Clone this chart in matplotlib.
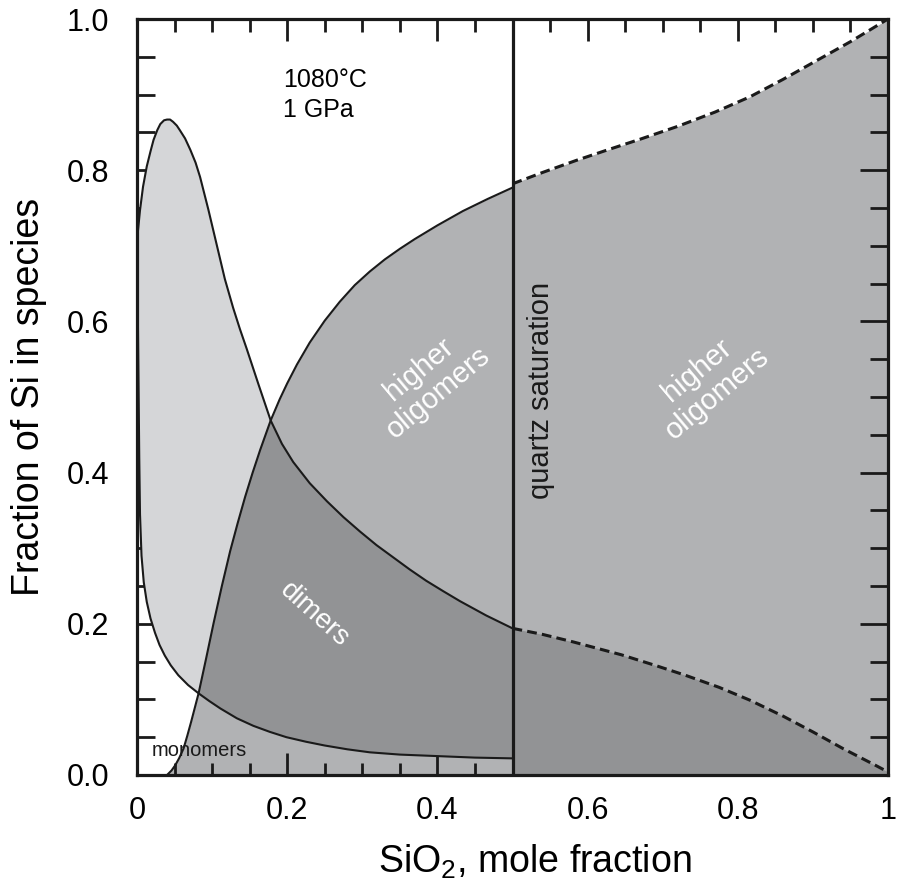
import numpy as np
import matplotlib
matplotlib.use("Agg")
import matplotlib.pyplot as plt
from matplotlib.ticker import MultipleLocator, FixedLocator

plt.rcParams['font.family'] = ['Liberation Sans', 'DejaVu Sans']
plt.rcParams['mathtext.fontset'] = 'custom'
plt.rcParams['mathtext.rm'] = 'Liberation Sans'
plt.rcParams['mathtext.it'] = 'Liberation Sans'

# ---- data ----
# upper curve (solid up to quartz saturation, dashed beyond)
A_x_solid = [0.0, 0.004, 0.008, 0.013, 0.018, 0.022, 0.027, 0.031, 0.036, 0.040, 0.044,
             0.048, 0.053, 0.057, 0.064, 0.071, 0.078, 0.084, 0.095, 0.106, 0.117,
             0.128, 0.137, 0.146, 0.162, 0.178, 0.193, 0.208, 0.230, 0.253, 0.275,
             0.297, 0.319, 0.341, 0.363, 0.385, 0.408, 0.430, 0.465, 0.5]
A_y_solid = [0.707, 0.747, 0.778, 0.805, 0.825, 0.840, 0.853, 0.861, 0.866, 0.867, 0.867,
             0.864, 0.859, 0.853, 0.842, 0.827, 0.810, 0.791, 0.748, 0.702, 0.656,
             0.618, 0.590, 0.564, 0.516, 0.469, 0.438, 0.414, 0.386, 0.362, 0.341,
             0.322, 0.304, 0.288, 0.272, 0.257, 0.243, 0.230, 0.211, 0.194]
A_x_dash = [0.5, 0.54, 0.581, 0.645, 0.69, 0.73, 0.775, 0.816, 0.86, 0.9, 0.94, 0.983, 1.0]
A_y_dash = [0.194, 0.186, 0.176, 0.159, 0.145, 0.132, 0.116, 0.099, 0.078, 0.057, 0.035, 0.013, 0.004]

# rising curve
C_x_solid = [0.040, 0.046, 0.051, 0.056, 0.062, 0.067, 0.072, 0.077, 0.082, 0.092,
             0.102, 0.113, 0.124, 0.134, 0.144, 0.154, 0.164, 0.178, 0.190, 0.200,
             0.213, 0.230, 0.250, 0.270, 0.290, 0.310, 0.330, 0.350, 0.370, 0.400,
             0.434, 0.467, 0.5]
C_y_solid = [0.0, 0.006, 0.013, 0.022, 0.035, 0.052, 0.070, 0.089, 0.108, 0.154,
             0.201, 0.250, 0.296, 0.333, 0.368, 0.400, 0.430, 0.469, 0.497, 0.518,
             0.543, 0.572, 0.601, 0.626, 0.648, 0.666, 0.682, 0.696, 0.709, 0.727,
             0.746, 0.762, 0.777]
C_x_dash = [0.5, 0.54, 0.585, 0.63, 0.67, 0.72, 0.77, 0.816, 0.86, 0.905, 0.95, 1.0]
C_y_dash = [0.782, 0.797, 0.813, 0.828, 0.841, 0.858, 0.877, 0.897, 0.920, 0.945, 0.970, 1.0]

# lower curve
B_x = [0.0, 0.001, 0.002, 0.003, 0.004, 0.006, 0.009, 0.013, 0.018, 0.024, 0.030,
       0.037, 0.045, 0.055, 0.068, 0.082, 0.096, 0.111, 0.133, 0.155, 0.177, 0.199,
       0.225, 0.25, 0.28, 0.31, 0.35, 0.4, 0.45, 0.5]
B_y = [0.707, 0.62, 0.52, 0.42, 0.345, 0.29, 0.255, 0.229, 0.207, 0.188, 0.172,
       0.158, 0.145, 0.132, 0.119, 0.108, 0.098, 0.088, 0.075, 0.065, 0.057, 0.050,
       0.044, 0.039, 0.034, 0.030, 0.027, 0.025, 0.023, 0.022]

x_ticks = [0, 0.2, 0.4, 0.6, 0.8, 1.0]
x_ticklabels = ['0', '0.2', '0.4', '0.6', '0.8', '1']
y_ticks = [0.0, 0.2, 0.4, 0.6, 0.8, 1.0]
y_ticklabels = ['0.0', '0.2', '0.4', '0.6', '0.8', '1.0']

LIGHT = '#d5d6d8'
MED = '#b1b2b4'
DARK = '#929395'
INK = '#1a1a1a'

# ---- figure ----
fig = plt.figure(figsize=(8.98, 8.82), dpi=100)
ax = fig.add_axes([137/898, 1-775/882, (888-137)/898, (775-19)/882])

Ax = np.array(A_x_solid); Ay = np.array(A_y_solid)
Cx = np.array(C_x_solid); Cy = np.array(C_y_solid)
Bx = np.array(B_x); By = np.array(B_y)

iA_ac = int(np.argmin(np.abs(Ax - 0.178)))
iC_ac = int(np.argmin(np.abs(Cx - 0.178)))
iC_bc = int(np.argmin(np.abs(Cx - 0.082)))
iB_bc = int(np.argmin(np.abs(Bx - 0.082)))

# medium gray: everything under the rising curve
ax.fill_between(np.concatenate([Cx, C_x_dash]), 0, np.concatenate([Cy, C_y_dash]),
                color=MED, lw=0, zorder=1)

# dark gray (dimers), left part: between lower curve and min(upper, rising)
dx = np.concatenate([Bx[iB_bc:], Ax[iA_ac:][::-1], Cx[iC_bc:iC_ac + 1][::-1]])
dy = np.concatenate([By[iB_bc:], Ay[iA_ac:][::-1], Cy[iC_bc:iC_ac + 1][::-1]])
ax.fill(dx, dy, color=DARK, lw=0, zorder=2)
# dark gray right of quartz saturation
ax.fill_between(A_x_dash, 0, A_y_dash, color=DARK, lw=0, zorder=2)

# light gray (monomer-rich region)
lx = np.concatenate([Ax[:iA_ac + 1], Cx[iC_bc:iC_ac + 1][::-1], Bx[:iB_bc + 1][::-1]])
ly = np.concatenate([Ay[:iA_ac + 1], Cy[iC_bc:iC_ac + 1][::-1], By[:iB_bc + 1][::-1]])
ax.fill(lx, ly, color=LIGHT, lw=0, zorder=2)

# curves
lw_c = 1.5
for xs, ys in ((Ax, Ay), (Cx, Cy), (Bx, By)):
    ax.plot(xs, ys, color=INK, lw=lw_c, zorder=4, solid_joinstyle='round')
ax.plot(A_x_dash, A_y_dash, color=INK, lw=2.2, ls=(0, (3.2, 1.7)), zorder=4)
ax.plot(C_x_dash, C_y_dash, color=INK, lw=2.2, ls=(0, (3.2, 1.7)), zorder=4)
ax.axvline(0.5, color=INK, lw=2.3, zorder=5)

ax.set_xlim(0, 1)
ax.set_ylim(0, 1)

# ticks
ax.xaxis.set_major_locator(FixedLocator(x_ticks))
ax.yaxis.set_major_locator(FixedLocator(y_ticks))
ax.set_xticklabels(x_ticklabels)
ax.set_yticklabels(y_ticklabels)
ax.xaxis.set_minor_locator(MultipleLocator(0.05))
ax.yaxis.set_minor_locator(MultipleLocator(0.05))
ax.tick_params(axis='both', which='both', direction='in', top=True, right=True,
               width=2.0, color=INK)
ax.tick_params(axis='x', which='major', length=15.5, labelsize=22, pad=15)
ax.tick_params(axis='x', which='minor', length=9)
ax.tick_params(axis='y', which='major', length=20, labelsize=22, pad=20)
ax.tick_params(axis='y', which='minor', length=13)
for s in ax.spines.values():
    s.set_linewidth(2.3)
    s.set_color(INK)
    s.set_zorder(6)

ax.set_xlabel('SiO$_2$, mole fraction', fontsize=27, labelpad=12, x=0.53)
ax.set_ylabel('Fraction of Si in species', fontsize=27, labelpad=14)

# annotations
ax.text(0.194, 0.935, '1080°C\n1 GPa', fontsize=18, ha='left', va='top',
        linespacing=1.3, zorder=7)
ax.text(0.388, 0.521, 'higher\noligomers', fontsize=21, color='white', ha='center',
        va='center', rotation=40, linespacing=1.1, zorder=7)
ax.text(0.759, 0.52, 'higher\noligomers', fontsize=21, color='white', ha='center',
        va='center', rotation=40, linespacing=1.1, zorder=7)
ax.text(0.237, 0.212, 'dimers', fontsize=20, color='white', ha='center',
        va='center', rotation=-42, zorder=7)
ax.text(0.538, 0.509, 'quartz saturation', fontsize=21, color=INK, ha='center',
        va='center', rotation=90, zorder=7)
ax.text(0.02, 0.033, 'monomers', fontsize=14.5, color=INK, ha='left',
        va='center', zorder=7)

fig.savefig('out.png', dpi=100)
